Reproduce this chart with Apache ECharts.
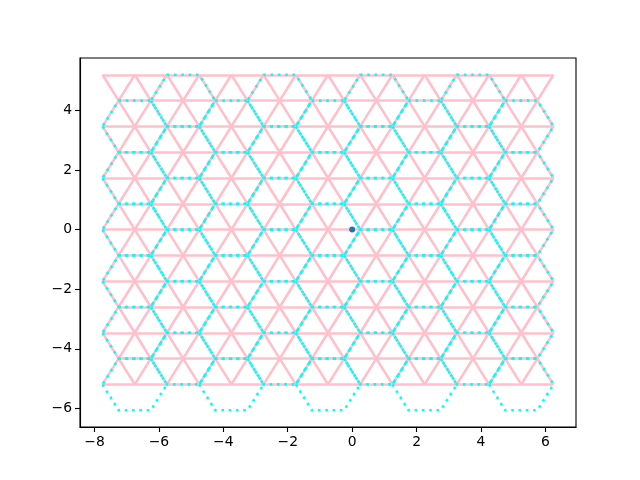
<!DOCTYPE html>
<html>
<head>
<meta charset="utf-8">
<script src="https://cdn.jsdelivr.net/npm/echarts@6/dist/echarts.min.js"></script>
<style>
html,body{margin:0;padding:0;background:#fff;}
#chart{width:640px;height:480px;}
</style>
</head>
<body>
<div id="chart"></div>
<script>
// Triangular lattice rows (y values)
const ROW_Y = [-5.196, -4.330, -3.464, -2.598, -1.732, -0.866, 0, 0.866, 1.732, 2.598, 3.464, 4.330, 5.196];
// x positions of lattice vertices on even-index rows and odd-index rows
const EVEN_ROW_X = [-7.75, -6.75, -5.75, -4.75, -3.75, -2.75, -1.75, -0.75, 0.25, 1.25, 2.25, 3.25, 4.25, 5.25, 6.25];
const ODD_ROW_X = [-7.25, -6.25, -5.25, -4.25, -3.25, -2.25, -1.25, -0.25, 0.75, 1.75, 2.75, 3.75, 4.75, 5.75];
// Hexagon (honeycomb) centres: y rows, x on even rows / odd rows
const HEX_ROW_Y = [-5.196, -4.330, -3.464, -2.598, -1.732, -0.866, 0, 0.866, 1.732, 2.598, 3.464, 4.330];
const HEX_X_EVEN = [-6.75, -3.75, -0.75, 2.25, 5.25];
const HEX_X_ODD = [-5.25, -2.25, 0.75, 3.75];
const HEX_SIDE = 1;
// Single point
const POINTS = [[0, 0]];
// Axis ticks
const X_TICKS = [-8, -6, -4, -2, 0, 2, 4, 6];
const Y_TICKS = [-6, -4, -2, 0, 2, 4];

function rowXs(j) { return j % 2 === 0 ? EVEN_ROW_X : ODD_ROW_X; }

// pink lattice segments
const pinkSegs = [];
ROW_Y.forEach(function (y, j) {
  const xs = rowXs(j);
  pinkSegs.push({ coords: [[xs[0], y], [xs[xs.length - 1], y]] });
  if (j + 1 < ROW_Y.length) {
    const xs2 = rowXs(j + 1), y2 = ROW_Y[j + 1];
    xs.forEach(function (x) {
      xs2.forEach(function (x2) {
        if (Math.abs(Math.abs(x - x2) - 0.5) < 1e-6) {
          pinkSegs.push({ coords: [[x, y], [x2, y2]] });
        }
      });
    });
  }
});

// cyan hexagons
const hexes = [];
const h = HEX_SIDE * Math.sqrt(3) / 2;
HEX_ROW_Y.forEach(function (cy, j) {
  const xs = j % 2 === 0 ? HEX_X_EVEN : HEX_X_ODD;
  xs.forEach(function (cx) {
    hexes.push({
      coords: [
        [cx - HEX_SIDE, cy], [cx - HEX_SIDE / 2, cy - h], [cx + HEX_SIDE / 2, cy - h],
        [cx + HEX_SIDE, cy], [cx + HEX_SIDE / 2, cy + h], [cx - HEX_SIDE / 2, cy + h],
        [cx - HEX_SIDE, cy]
      ]
    });
  });
});

function fmt(v) { return String(v).replace('-', '\u2212'); }

const chart = echarts.init(document.getElementById('chart'), null, { renderer: 'canvas' });
chart.setOption({
  animation: false,
  backgroundColor: '#ffffff',
  grid: { left: 80, right: 64, top: 58, bottom: 53, show: true, borderColor: '#000', borderWidth: 1.1, backgroundColor: 'transparent' },
  xAxis: {
    type: 'value', min: -8.45, max: 6.95,
    splitLine: { show: false },
    axisLine: { show: true, onZero: false, lineStyle: { color: '#000', width: 1.1 } },
    axisTick: { show: true, customValues: X_TICKS, length: 5, lineStyle: { color: '#000', width: 1.1 } },
    axisLabel: { customValues: X_TICKS, formatter: fmt, color: '#000', fontFamily: 'DejaVu Sans', fontSize: 13.9, margin: 8 }
  },
  yAxis: {
    type: 'value', min: -6.625, max: 5.759,
    splitLine: { show: false },
    axisLine: { show: true, onZero: false, lineStyle: { color: '#000', width: 1.1 } },
    axisTick: { show: true, customValues: Y_TICKS, length: 5, lineStyle: { color: '#000', width: 1.1 } },
    axisLabel: { customValues: Y_TICKS, formatter: fmt, color: '#000', fontFamily: 'DejaVu Sans', fontSize: 13.9, margin: 8 }
  },
  series: [
    {
      type: 'lines', coordinateSystem: 'cartesian2d', polyline: false,
      data: pinkSegs, silent: true, z: 2,
      lineStyle: { color: '#FFC0CB', width: 2.6, opacity: 1, cap: 'butt' }
    },
    {
      type: 'lines', coordinateSystem: 'cartesian2d', polyline: true,
      data: hexes, silent: true, z: 3,
      lineStyle: { color: '#00FFFF', width: 2.6, opacity: 1, type: [2.6, 4.7], cap: 'butt' }
    },
    {
      type: 'scatter', data: POINTS, symbol: 'circle', symbolSize: 6, z: 4,
      itemStyle: { color: '#1f77b4', opacity: 1 }
    }
  ]
});
</script>
</body>
</html>
